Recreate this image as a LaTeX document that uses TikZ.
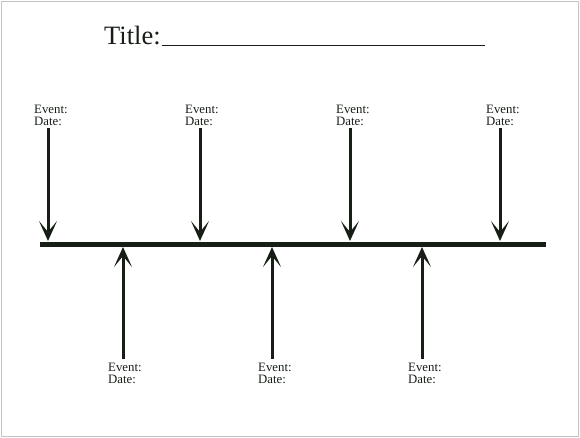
\documentclass[tikz,border=0pt]{standalone}
\usepackage{fontspec}
\setmainfont{Liberation Serif}
\usetikzlibrary{arrows.meta}
\definecolor{ink}{RGB}{22,30,22}
\definecolor{frame}{RGB}{195,195,195}
\begin{document}
\begin{tikzpicture}[x=1pt,y=-1pt,
  lbl/.style={anchor=north west,inner sep=0pt,align=left,font=\fontsize{12.8}{12}\selectfont,text=ink},
  evarrow/.style={draw=ink,line width=3pt,-{Stealth[length=20pt,width=18pt,inset=11pt]}},
  mainline/.style={draw=ink,line width=5pt}]
\useasboundingbox (0,0) rectangle (580,437);
\draw[frame,line width=1pt] (1,1) rectangle (578.5,436);
% title
\node[anchor=base west,inner sep=0pt,font=\fontsize{26.5}{26.5}\selectfont,text=ink] (title) at (104,44) {Title:};
\coordinate (ulA) at (162,45);
\coordinate (ulB) at (485,45);
\draw[ink,line width=0.9pt] (ulA) -- (ulB);
% main line
\coordinate (L) at (40,244);
\coordinate (R) at (546,244);
\draw[mainline] (L) -- (R);
% top events
\foreach \n/\x/\lx in {1/48/34,2/200/185,3/350/336,4/500/486}{
  \node[lbl] (t\n) at (\lx,104.5) {Event:\\Date:};
  \coordinate (ts\n) at (\x,128);
  \coordinate (te\n) at (\x,241);
  \draw[evarrow] (ts\n) -- (te\n);
}
% bottom events
\foreach \n/\x/\lx in {1/123/108,2/272/258,3/422/408}{
  \node[lbl] (b\n) at (\lx,363) {Event:\\Date:};
  \coordinate (bs\n) at (\x,359);
  \coordinate (be\n) at (\x,247);
  \draw[evarrow] (bs\n) -- (be\n);
}
\end{tikzpicture}
\end{document}
